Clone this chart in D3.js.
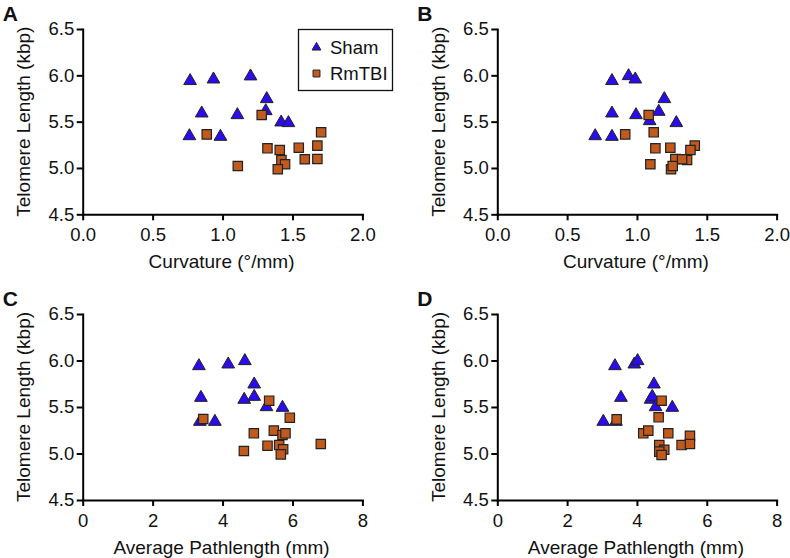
<!DOCTYPE html>
<html><head><meta charset="utf-8">
<script src="https://cdn.jsdelivr.net/npm/d3@7"></script>
<style>
html,body{margin:0;padding:0;background:#fff;}
svg text{font-family:Arial,"Liberation Sans",Helvetica,sans-serif;fill:#111;}
</style></head>
<body>
<svg id="c" width="790" height="558"></svg>
<script>
// ---------- data ----------
const groups = ["Sham", "RmTBI"];
const yTicks = [4.5, 5.0, 5.5, 6.0, 6.5];
const curvTicks = [0, 0.5, 1.0, 1.5, 2.0];
const pathTicks = [0, 2, 4, 6, 8];

// Panel A: curvature vs telomere length
const shamA_x = [0.768, 0.935, 1.200, 1.316, 1.309, 0.851, 1.106, 1.419, 1.471, 0.763, 0.985];
const shamA_y = [5.940, 5.957, 5.990, 5.745, 5.615, 5.590, 5.572, 5.493, 5.486, 5.345, 5.338];
const rmA_x = [1.280, 0.887, 1.705, 1.321, 1.409, 1.545, 1.678, 1.421, 1.447, 1.588, 1.678, 1.109, 1.395];
const rmA_y = [5.572, 5.363, 5.385, 5.212, 5.194, 5.219, 5.241, 5.086, 5.040, 5.094, 5.097, 5.021, 4.986];

// Panel B: curvature vs telomere length
const shamB_x = [0.821, 0.940, 0.988, 1.196, 0.821, 1.156, 0.993, 1.091, 1.282, 0.701, 0.821];
const shamB_y = [5.940, 5.993, 5.957, 5.745, 5.590, 5.608, 5.572, 5.507, 5.486, 5.345, 5.338];
const rmB_x = [1.084, 0.916, 1.120, 1.132, 1.239, 1.414, 1.383, 1.275, 1.359, 1.323, 1.096, 1.244, 1.256];
const rmB_y = [5.572, 5.363, 5.385, 5.212, 5.219, 5.241, 5.194, 5.097, 5.086, 5.094, 5.040, 4.986, 5.021];

// Panel C: average pathlength vs telomere length
const shamC_x = [3.324, 4.162, 4.638, 4.905, 3.381, 4.619, 4.905, 5.257, 5.714, 3.352, 3.781];
const shamC_y = [5.941, 5.959, 5.995, 5.744, 5.600, 5.579, 5.611, 5.500, 5.493, 5.342, 5.342];
const rmC_x = [5.333, 3.448, 5.924, 4.895, 5.467, 5.714, 5.800, 5.286, 5.619, 5.733, 6.810, 4.610, 5.667];
const rmC_y = [5.568, 5.371, 5.385, 5.217, 5.246, 5.199, 5.217, 5.084, 5.091, 5.045, 5.102, 5.027, 4.991];

// Panel D: average pathlength vs telomere length
const shamD_x = [3.370, 3.924, 4.019, 4.487, 3.542, 4.391, 4.439, 4.535, 5.012, 3.036, 3.399];
const shamD_y = [5.941, 5.959, 5.995, 5.744, 5.600, 5.580, 5.611, 5.500, 5.493, 5.342, 5.342];
const rmD_x = [4.706, 3.418, 4.621, 4.181, 4.325, 4.897, 5.518, 5.279, 5.518, 4.640, 4.783, 4.640, 4.706];
const rmD_y = [5.568, 5.367, 5.389, 5.217, 5.246, 5.217, 5.190, 5.091, 5.102, 5.091, 5.040, 5.020, 4.984];

// ---------- style ----------
const shamFill = "#2a0cec";
const rmFill = "#c25a1e";
const markStroke = "#222";

const svg = d3.select("#c");

const panels = [
  {letter:"A", left:82.7, right:362.4, top:29, bottom:214.3, xTicks:curvTicks, xFmt:d3.format(".1f"), xTitle:"Curvature (°/mm)",
   sx:shamA_x, sy:shamA_y, rx:rmA_x, ry:rmA_y, legend:true},
  {letter:"B", left:497.3, right:776.6, top:29, bottom:214.3, xTicks:curvTicks, xFmt:d3.format(".1f"), xTitle:"Curvature (°/mm)",
   sx:shamB_x, sy:shamB_y, rx:rmB_x, ry:rmB_y},
  {letter:"C", left:82.7, right:362.4, top:314, bottom:500, xTicks:pathTicks, xFmt:d3.format("d"), xTitle:"Average Pathlength (mm)",
   sx:shamC_x, sy:shamC_y, rx:rmC_x, ry:rmC_y},
  {letter:"D", left:497.3, right:776.6, top:314, bottom:500, xTicks:pathTicks, xFmt:d3.format("d"), xTitle:"Average Pathlength (mm)",
   sx:shamD_x, sy:shamD_y, rx:rmD_x, ry:rmD_y}
];

const triPath = d3.symbol(d3.symbolTriangle).size(70)();
const sqPath = d3.symbol(d3.symbolSquare).size(88)();

panels.forEach(p => {
  const x = d3.scaleLinear().domain([p.xTicks[0], p.xTicks[p.xTicks.length-1]]).range([p.left, p.right]);
  const y = d3.scaleLinear().domain([yTicks[0], yTicks[yTicks.length-1]]).range([p.bottom, p.top]);
  const g = svg.append("g");

  // panel letter
  g.append("text").attr("x", p.left - 80).attr("y", p.top - 8)
    .attr("font-size", 21).attr("font-weight", "bold").text(p.letter);

  // axes
  const xa = g.append("g").attr("transform", `translate(0,${p.bottom})`)
    .call(d3.axisBottom(x).tickValues(p.xTicks).tickFormat(p.xFmt).tickSize(6).tickSizeOuter(0).tickPadding(8));
  const ya = g.append("g").attr("transform", `translate(${p.left},0)`)
    .call(d3.axisLeft(y).tickValues(yTicks).tickFormat(d3.format(".1f")).tickSize(6).tickSizeOuter(0).tickPadding(2.5));
  [xa, ya].forEach(a => {
    a.select(".domain").attr("stroke", "#000").attr("stroke-width", 2).attr("stroke-linecap","square");
    a.selectAll(".tick line").attr("stroke", "#000").attr("stroke-width", 2);
    a.selectAll(".tick text").attr("font-size", 18.5).attr("fill", "#111")
      .attr("font-family", "Arial, 'Liberation Sans', sans-serif");
  });

  // axis titles
  g.append("text").attr("x", (p.left + p.right) / 2 - 1).attr("y", p.bottom + 53.5)
    .attr("text-anchor", "middle").attr("font-size", 19).text(p.xTitle);
  g.append("text").attr("transform", `translate(${p.left - 52.5},${(p.top + p.bottom) / 2}) rotate(-90)`)
    .attr("text-anchor", "middle").attr("font-size", 19).text("Telomere Length (kbp)");

  // marks
  const sham = p.sx.map((v, i) => ({x: v, y: p.sy[i]}));
  const rm = p.rx.map((v, i) => ({x: v, y: p.ry[i]}));
  g.append("g").selectAll("path").data(sham).join("path")
    .attr("d", triPath).attr("transform", d => `translate(${x(d.x)},${y(d.y)})`)
    .attr("fill", shamFill).attr("stroke", markStroke).attr("stroke-width", 1);
  g.append("g").selectAll("path").data(rm).join("path")
    .attr("d", sqPath).attr("transform", d => `translate(${x(d.x)},${y(d.y)})`)
    .attr("fill", rmFill).attr("stroke", markStroke).attr("stroke-width", 1.2);

  if (p.legend) {
    const lg = g.append("g");
    lg.append("rect").attr("x", 298.5).attr("y", 29.5).attr("width", 94).attr("height", 61)
      .attr("fill", "#fff").attr("stroke", "#111").attr("stroke-width", 1.3);
    const items = [
      {name: groups[0], d: d3.symbol(d3.symbolTriangle).size(34)(), fill: shamFill},
      {name: groups[1], d: d3.symbol(d3.symbolSquare).size(48)(), fill: rmFill}
    ];
    items.forEach((it, i) => {
      const cy = 47.5 + i * 26;
      lg.append("path").attr("d", it.d).attr("transform", `translate(316.5,${cy})`)
        .attr("fill", it.fill).attr("stroke", markStroke).attr("stroke-width", 1);
      lg.append("text").attr("x", 330).attr("y", cy + 6.5).attr("font-size", 18.5).text(it.name);
    });
  }
});
</script>
</body></html>
